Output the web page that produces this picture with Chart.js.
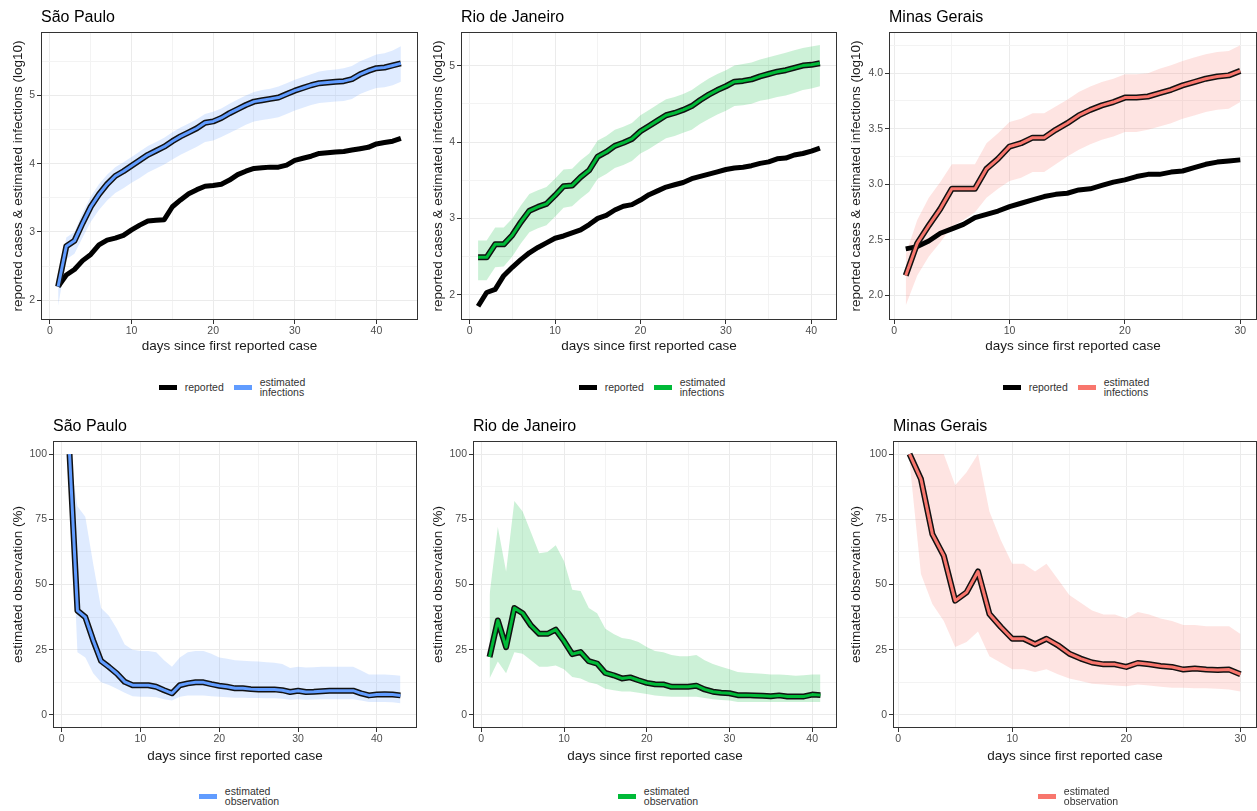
<!DOCTYPE html>
<html>
<head>
<meta charset="utf-8">
<script src="https://cdn.jsdelivr.net/npm/chart.js@4.4.1/dist/chart.umd.min.js"></script>
<style>
body{margin:0;background:#fff;width:1257px;height:811px;position:relative;overflow:hidden;font-family:"Liberation Sans",Arial,sans-serif}
canvas{position:absolute}
.ptitle{position:absolute;font-size:16px;line-height:18px;color:#000;white-space:nowrap}
.legend{position:absolute;width:300px;display:flex;justify-content:center;align-items:center;font-size:10.5px;color:#333}
.legend .item{display:flex;align-items:center;margin:0 5px}
.legend .sw{display:inline-block;width:18px;height:5px;margin-right:8px}
.legend .txt{line-height:10.5px}
</style>
</head>
<body>
<script>
const FONT = '"Liberation Sans", Arial, sans-serif';

// days since first reported case
const spDays = Array.from({length: 43}, (_, i) => i + 1);
const rjDays = Array.from({length: 41}, (_, i) => i + 1);
const mgDays = Array.from({length: 30}, (_, i) => i + 1);

// São Paulo (log10)
const spReported = [2.20,2.37,2.45,2.58,2.67,2.81,2.88,2.91,2.95,3.03,3.10,3.16,3.17,3.18,3.37,3.47,3.56,3.62,3.67,3.68,3.70,3.76,3.84,3.89,3.93,3.94,3.95,3.95,3.98,4.05,4.08,4.11,4.15,4.16,4.17,4.18,4.20,4.22,4.24,4.29,4.31,4.33,4.37];
const spInfections = [2.20,2.79,2.87,3.13,3.37,3.55,3.70,3.82,3.89,3.97,4.05,4.13,4.19,4.25,4.33,4.40,4.46,4.52,4.60,4.62,4.67,4.74,4.80,4.86,4.91,4.93,4.95,4.97,5.02,5.07,5.11,5.15,5.18,5.19,5.20,5.21,5.24,5.31,5.36,5.40,5.41,5.44,5.47];
const spInfHigh = [2.30,2.92,3.00,3.28,3.52,3.70,3.84,3.95,4.02,4.10,4.18,4.26,4.32,4.38,4.46,4.53,4.59,4.65,4.73,4.76,4.81,4.88,4.94,5.00,5.05,5.08,5.10,5.13,5.18,5.23,5.27,5.31,5.35,5.37,5.38,5.40,5.43,5.50,5.55,5.60,5.62,5.66,5.72];
const spInfLow = [1.92,2.60,2.68,2.92,3.15,3.32,3.46,3.57,3.64,3.72,3.79,3.87,3.93,3.99,4.06,4.13,4.19,4.25,4.32,4.34,4.39,4.45,4.51,4.57,4.62,4.64,4.66,4.68,4.73,4.78,4.82,4.86,4.89,4.90,4.91,4.92,4.95,5.02,5.07,5.11,5.12,5.15,5.20];
// São Paulo (%)
const spObserved = [100,40,37.5,28.6,20.7,18.4,15.9,12.7,11.4,11.4,11.4,10.8,9.5,8.3,11.4,12.1,12.5,12.5,11.8,11.2,10.8,10.2,10.2,9.9,9.8,9.8,9.8,9.5,8.8,9.3,8.8,8.9,9.1,9.3,9.3,9.3,9.3,8.3,7.5,7.8,7.9,7.8,7.5];
const spObsHigh = [100,80,76,58,41,38,33,27,25,24.5,24.5,24,21,18.5,22,24,24.5,24.5,23.5,22,21.5,21,20.8,20.6,20.5,20.2,20,19.5,18,18.5,18.2,18.3,18.5,18.5,18.5,18.5,18.5,17,15.5,15.5,15.5,15.3,15];
const spObsLow = [96,24,22,16,12.5,11.5,10,8.5,7.2,7,7,6.8,6,5.5,7,7.5,7.5,7.5,7.2,7,6.8,6.6,6.6,6.5,6.5,6.4,6.4,6.2,5.8,6,5.8,5.9,6,6,6,6,6,5.5,5,5,5,4.9,4.5];

// Rio de Janeiro (log10)
const rjReported = [1.85,2.03,2.07,2.25,2.36,2.46,2.55,2.62,2.68,2.74,2.77,2.81,2.85,2.92,3.00,3.04,3.11,3.16,3.18,3.24,3.31,3.36,3.41,3.44,3.47,3.52,3.55,3.58,3.61,3.64,3.66,3.67,3.69,3.72,3.74,3.78,3.79,3.83,3.85,3.88,3.92];
const rjInfections = [2.49,2.49,2.66,2.66,2.78,2.95,3.10,3.15,3.19,3.30,3.42,3.43,3.54,3.63,3.81,3.87,3.95,3.99,4.04,4.14,4.21,4.28,4.35,4.38,4.42,4.47,4.55,4.62,4.68,4.73,4.79,4.80,4.82,4.86,4.89,4.92,4.94,4.97,5.00,5.01,5.03];
const rjInfHigh = [2.71,2.71,2.88,2.88,3.00,3.17,3.32,3.37,3.41,3.52,3.64,3.65,3.76,3.85,4.02,4.08,4.16,4.20,4.25,4.35,4.42,4.49,4.56,4.59,4.63,4.68,4.76,4.83,4.89,4.94,5.00,5.02,5.04,5.08,5.11,5.14,5.17,5.20,5.23,5.25,5.27];
const rjInfLow = [2.19,2.19,2.36,2.37,2.50,2.67,2.82,2.87,2.91,3.02,3.14,3.16,3.26,3.35,3.52,3.58,3.66,3.70,3.75,3.85,3.91,3.98,4.05,4.08,4.12,4.16,4.24,4.30,4.36,4.41,4.47,4.48,4.50,4.54,4.56,4.59,4.61,4.64,4.68,4.70,4.73];
// Rio de Janeiro (%)
const rjObserved = [22.2,36.2,26.0,41.0,39.0,34.3,31.1,31.1,32.7,28.3,23.3,24.1,20.6,19.7,16.1,15.2,14.0,14.4,13.3,12.3,11.8,11.7,10.8,10.8,10.8,11.2,9.8,8.9,8.5,8.3,7.6,7.6,7.5,7.4,7.2,7.5,7.1,7.1,7.1,7.8,7.6];
const rjObsHigh = [46,72,55,82,78,70,62,62.5,65,59,48,47.5,41,39,33,31,29.5,29,28,26,24.5,24,23,22.5,22.5,23,21,19.5,18.5,17.5,16.5,16.2,16,15.8,15.5,15.5,15.3,15,15.2,15.5,15.5];
const rjObsLow = [14,20.5,16,24,23.5,21,18.5,18.5,19,17.5,14.5,14,12.5,11.8,10,9.5,9,9,8.5,8,7.5,7.2,7,7,7,7,6.5,6,5.7,5.5,5,5,5,5,5,5,5,5,5,5,5];

// Minas Gerais (log10)
const mgReported = [2.42,2.44,2.49,2.56,2.60,2.64,2.70,2.73,2.76,2.80,2.83,2.86,2.89,2.91,2.92,2.95,2.96,2.99,3.02,3.04,3.07,3.09,3.09,3.11,3.12,3.15,3.18,3.20,3.21,3.22];
const mgInfections = [2.18,2.47,2.63,2.78,2.96,2.96,2.96,3.14,3.23,3.34,3.37,3.42,3.42,3.49,3.55,3.62,3.67,3.71,3.74,3.78,3.78,3.79,3.82,3.85,3.89,3.92,3.95,3.97,3.98,4.02];
const mgInfHigh = [2.37,2.68,2.88,3.02,3.18,3.18,3.18,3.37,3.46,3.56,3.59,3.64,3.64,3.70,3.76,3.83,3.88,3.92,3.95,3.99,3.99,4.00,4.04,4.07,4.11,4.14,4.17,4.19,4.20,4.25];
const mgInfLow = [1.91,2.18,2.35,2.48,2.62,2.68,2.75,2.88,2.96,3.03,3.06,3.11,3.11,3.18,3.25,3.31,3.36,3.40,3.43,3.47,3.47,3.49,3.52,3.55,3.59,3.62,3.65,3.67,3.68,3.74];
// Minas Gerais (%)
const mgObserved = [100,90.4,69.3,61.0,43.8,47.0,55.0,38.7,33.7,29.2,29.2,27.1,29.2,26.7,23.5,21.6,20.1,19.4,19.4,18.4,19.9,19.4,18.8,18.4,17.4,17.8,17.4,17.2,17.4,15.6];
const mgObsHigh = [100,100,100,100,88,93,100,78,67,58,58,55,58,52,46,43,40,38.5,38.5,37,39.5,38.5,37,36,34.5,34.5,34,34,34,31];
const mgObsLow = [97,54,42.5,36,26,28,32,22.5,20,17.5,17.5,16.5,17.5,15.6,14,13,12,11.7,11.3,11,11.7,11.3,10.8,10.4,10.4,10.2,10.2,10,9.8,9];

// tick labels
const logMajor = [2,3,4,5];
const logMinor = [2.5,3.5,4.5,5.5];
const mgLogMajor = [2.0,2.5,3.0,3.5,4.0];
const mgLogMinor = [2.25,2.75,3.25,3.75,4.25];
const pctMajor = [0,25,50,75,100];
const pctMinor = [12.5,37.5,62.5,87.5];
const dayMajor = [0,10,20,30,40];
const dayMinor = [5,15,25,35,45];

const colors = {sp: '#619CFF', rj: '#00BA38', mg: '#F8766D'};
const ribbons = {sp: 'rgba(97,156,255,0.2)', rj: 'rgba(0,186,56,0.2)', mg: 'rgba(248,118,109,0.2)'};

const panelBorder = {
  id: 'panelBorder',
  afterDatasetsDraw(chart) {
    const a = chart.chartArea, ctx = chart.ctx;
    ctx.save();
    ctx.strokeStyle = '#333333';
    ctx.lineWidth = 1;
    ctx.strokeRect(Math.round(a.left) + 0.5, Math.round(a.top) + 0.5, Math.round(a.right - a.left) - 1, Math.round(a.bottom - a.top) - 1);
    ctx.restore();
  }
};

function pts(days, vals) {
  return vals.map((v, i) => ({x: days[i], y: v}));
}

function axis(min, max, major, minor, fmt, size, pad, title, titlePad) {
  const all = major.concat(minor).filter(v => v >= min && v <= max).sort((a, b) => a - b);
  return {
    type: 'linear', min: min, max: max,
    afterBuildTicks: s => { s.ticks = all.map(v => ({value: v})); },
    afterFit: s => { if (s.isHorizontal()) s.height = size; else s.width = size; },
    ticks: {
      autoSkip: false, maxRotation: 0, padding: pad, color: '#4d4d4d',
      font: {size: 10.5, family: FONT},
      callback: v => major.includes(v) ? fmt(v) : ''
    },
    grid: {
      color: c => major.includes(c.tick.value) ? '#ebebeb' : '#f3f3f3',
      lineWidth: 1, tickLength: 4,
      tickColor: c => major.includes(c.tick.value) ? '#333333' : 'rgba(0,0,0,0)'
    },
    border: {display: false},
    title: {display: true, text: title, color: '#1a1a1a', font: {size: 13.5, family: FONT}, padding: titlePad}
  };
}

function lineSet(data, color, width) {
  return {data: data, borderColor: color, borderWidth: width, pointRadius: 0, fill: false,
    tension: 0, borderJoinStyle: 'round', borderCapStyle: 'butt'};
}

function ribbonSets(days, high, low, color) {
  return [
    {data: pts(days, high), borderWidth: 0, pointRadius: 0, fill: '+1', backgroundColor: color, tension: 0},
    {data: pts(days, low), borderWidth: 0, pointRadius: 0, fill: false, tension: 0}
  ];
}

function makePanel(p) {
  const cv = document.createElement('canvas');
  cv.width = p.w; cv.height = p.h;
  cv.style.left = p.left + 'px'; cv.style.top = p.top + 'px';
  document.body.appendChild(cv);

  const t = document.createElement('div');
  t.className = 'ptitle';
  t.textContent = p.title;
  t.style.left = (p.left + p.yWidth) + 'px';
  t.style.top = (p.top + p.padTop - 24) + 'px';
  document.body.appendChild(t);

  new Chart(cv.getContext('2d'), {
    type: 'line',
    data: {datasets: p.datasets},
    options: {
      responsive: false, animation: false, devicePixelRatio: 1,
      layout: {padding: {top: p.padTop, left: 0, right: p.padRight, bottom: 0}},
      plugins: {legend: {display: false}, tooltip: {enabled: false}},
      scales: {
        x: axis(p.xMin, p.xMax, dayMajor, dayMinor, v => String(v), p.xHeight, 1, 'days since first reported case', {top: 0, bottom: 4}),
        y: axis(p.yMin, p.yMax, p.yMajor, p.yMinor, p.yFmt, p.yWidth, 2, p.yTitle, {top: 10, bottom: 0})
      }
    },
    plugins: [panelBorder]
  });

  const lg = document.createElement('div');
  lg.className = 'legend';
  lg.style.left = (p.legendX - 150) + 'px';
  lg.style.top = (p.legendY - 11) + 'px';
  lg.style.height = '22px';
  lg.innerHTML = p.legend.map(it =>
    '<div class="item"><span class="sw" style="background:' + it[0] + '"></span><span class="txt">' + it[1] + '</span></div>'
  ).join('');
  document.body.appendChild(lg);
}

function topSets(days, reported, est, high, low, key) {
  return [
    lineSet(pts(days, est), colors[key], 3),
    lineSet(pts(days, est), '#111111', 6),
    lineSet(pts(days, reported), '#000000', 5)
  ].concat(ribbonSets(days, high, low, ribbons[key]));
}

function bottomSets(days, obs, high, low, key) {
  return [
    lineSet(pts(days, obs), colors[key], 3),
    lineSet(pts(days, obs), '#111111', 6)
  ].concat(ribbonSets(days, high, low, ribbons[key]));
}

const logTitle = 'reported cases & estimated infections (log10)';
const pctTitle = 'estimated observation (%)';
const intFmt = v => String(v);

// top row
makePanel({left: 0, top: 0, w: 420, h: 358, padTop: 32, padRight: 2, yWidth: 41, xHeight: 38,
  xMin: -1.1, xMax: 45.1, yMin: 1.71, yMax: 5.93, yMajor: logMajor, yMinor: logMinor, yFmt: intFmt,
  title: 'São Paulo', yTitle: logTitle, legendX: 232, legendY: 387,
  legend: [['#000', 'reported'], [colors.sp, 'estimated<br>infections']],
  datasets: topSets(spDays, spReported, spInfections, spInfHigh, spInfLow, 'sp')});
makePanel({left: 420, top: 0, w: 419, h: 358, padTop: 32, padRight: 2, yWidth: 41, xHeight: 38,
  xMin: -1, xMax: 43, yMin: 1.67, yMax: 5.44, yMajor: logMajor, yMinor: logMinor, yFmt: intFmt,
  title: 'Rio de Janeiro', yTitle: logTitle, legendX: 652, legendY: 387,
  legend: [['#000', 'reported'], [colors.rj, 'estimated<br>infections']],
  datasets: topSets(rjDays, rjReported, rjInfections, rjInfHigh, rjInfLow, 'rj')});
makePanel({left: 838, top: 0, w: 419, h: 358, padTop: 32, padRight: 0, yWidth: 51, xHeight: 38,
  xMin: -0.45, xMax: 31.45, yMin: 1.78, yMax: 4.37, yMajor: mgLogMajor, yMinor: mgLogMinor, yFmt: v => v.toFixed(1),
  title: 'Minas Gerais', yTitle: logTitle, legendX: 1076, legendY: 387,
  legend: [['#000', 'reported'], [colors.mg, 'estimated<br>infections']],
  datasets: topSets(mgDays, mgReported, mgInfections, mgInfHigh, mgInfLow, 'mg')});

// bottom row
makePanel({left: 0, top: 410, w: 420, h: 358, padTop: 31, padRight: 3, yWidth: 53, xHeight: 40,
  xMin: -1.1, xMax: 45.1, yMin: -5, yMax: 105, yMajor: pctMajor, yMinor: pctMinor, yFmt: intFmt,
  title: 'São Paulo', yTitle: pctTitle, legendX: 239, legendY: 796,
  legend: [[colors.sp, 'estimated<br>observation']],
  datasets: bottomSets(spDays, spObserved, spObsHigh, spObsLow, 'sp')});
makePanel({left: 420, top: 410, w: 419, h: 358, padTop: 31, padRight: 2, yWidth: 53, xHeight: 40,
  xMin: -1, xMax: 43, yMin: -5, yMax: 105, yMajor: pctMajor, yMinor: pctMinor, yFmt: intFmt,
  title: 'Rio de Janeiro', yTitle: pctTitle, legendX: 658, legendY: 796,
  legend: [[colors.rj, 'estimated<br>observation']],
  datasets: bottomSets(rjDays, rjObserved, rjObsHigh, rjObsLow, 'rj')});
makePanel({left: 838, top: 410, w: 419, h: 358, padTop: 31, padRight: 0, yWidth: 55, xHeight: 40,
  xMin: -0.45, xMax: 31.45, yMin: -5, yMax: 105, yMajor: pctMajor, yMinor: pctMinor, yFmt: intFmt,
  title: 'Minas Gerais', yTitle: pctTitle, legendX: 1078, legendY: 796,
  legend: [[colors.mg, 'estimated<br>observation']],
  datasets: bottomSets(mgDays, mgObserved, mgObsHigh, mgObsLow, 'mg')});
</script>
</body>
</html>
